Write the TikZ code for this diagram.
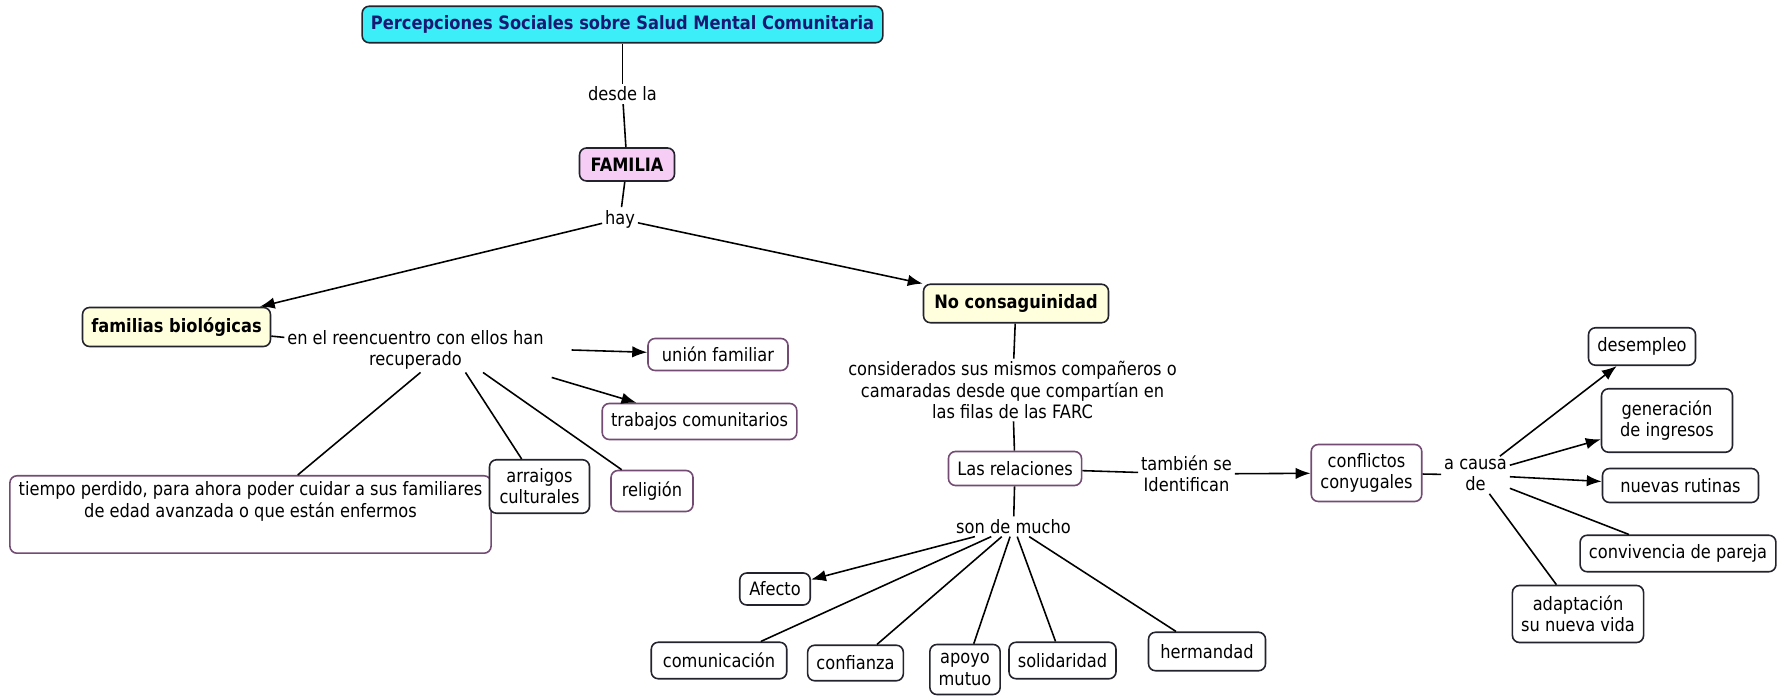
\documentclass[tikz,border=0pt]{standalone}
\usepackage{fontspec}
\setmainfont{DejaVu Sans}[FakeStretch=0.88]
\usetikzlibrary{arrows.meta}

\definecolor{cian}{RGB}{60,238,248}
\definecolor{marino}{RGB}{25,25,115}
\definecolor{rosa}{RGB}{245,205,245}
\definecolor{crema}{RGB}{255,255,222}
\definecolor{lila}{RGB}{115,75,115}
\definecolor{oscuro}{RGB}{35,35,45}

\tikzset{
  concepto/.style={draw=oscuro,line width=0.9pt,rounded corners=4pt,fill=white,align=center,
    inner xsep=5pt,inner ysep=3.5pt,font=\fontsize{10.5}{12}\selectfont},
  conlila/.style={concepto,draw=lila},
  enlace/.style={align=center,inner sep=1.5pt,font=\fontsize{10.5}{12}\selectfont},
  linea/.style={line width=0.9pt},
  flecha/.style={line width=0.9pt,-{Latex[length=8.5pt,width=6.5pt]}}
}

\begin{document}
\begin{tikzpicture}
    \useasboundingbox (0,0) rectangle (35.68,13.94);

    % raiz
    \node[concepto,fill=cian,text=marino,font=\fontsize{10.5}{12}\selectfont\bfseries,minimum width=10.4cm,minimum height=0.73cm] (T) at (12.45,13.45) {Percepciones Sociales sobre Salud Mental Comunitaria};
    \node[enlace] (D) at (12.45,12.06) {desde la};
    \node[concepto,fill=rosa,font=\fontsize{10.5}{12}\selectfont\bfseries,minimum width=1.9cm,minimum height=0.66cm] (F) at (12.54,10.65) {FAMILIA};
    \node[enlace] (H) at (12.40,9.56) {hay};

    \node[concepto,fill=crema,font=\fontsize{10.5}{12}\selectfont\bfseries,minimum width=3.75cm,minimum height=0.78cm] (FB) at (3.53,7.40) {familias biológicas};
    \node[concepto,fill=crema,font=\fontsize{10.5}{12}\selectfont\bfseries,minimum width=3.7cm,minimum height=0.77cm] (NC) at (20.32,7.87) {No consaguinidad};

    % rama izquierda
    \node[enlace] (R) at (8.31,6.94) {en el reencuentro con ellos han\\recuperado};
    \node[conlila,minimum width=2.8cm,minimum height=0.64cm] (UF) at (14.36,6.85) {unión familiar};
    \node[conlila,minimum width=3.87cm,minimum height=0.72cm] (TC) at (13.99,5.51) {trabajos comunitarios};
    \node[conlila,anchor=north,minimum width=9.56cm,text depth=0.6cm] (TP) at (5.01,4.44) {tiempo perdido, para ahora poder cuidar a sus familiares\\de edad avanzada o que están enfermos};
    \node[concepto,minimum width=2cm,minimum height=1.07cm] (AC) at (10.79,4.21) {arraigos\\culturales};
    \node[conlila,minimum width=1.64cm,minimum height=0.82cm] (RE) at (13.04,4.12) {religión};

    % rama derecha
    \node[enlace] (CS) at (20.25,6.14) {considerados sus mismos compañeros o\\camaradas desde que compartían en\\las filas de las FARC};
    \node[conlila,minimum width=2.66cm,minimum height=0.68cm] (LR) at (20.30,4.57) {Las relaciones};
    \node[enlace] (TS) at (23.73,4.46) {también se\\Identifican};
    \node[conlila,minimum width=2.21cm,minimum height=1.14cm] (CC) at (27.33,4.48) {conflictos\\conyugales};
    \node[enlace] (AD) at (29.51,4.44) {a causa\\de};

    \node[concepto,minimum width=2.14cm,minimum height=0.75cm] (DE) at (32.84,7.01) {desempleo};
    \node[concepto,minimum width=2.62cm,minimum height=1.27cm] (GI) at (33.34,5.53) {generación\\de ingresos};
    \node[concepto,minimum width=3.12cm,minimum height=0.68cm] (NR) at (33.61,4.23) {nuevas rutinas};
    \node[concepto,minimum width=3.87cm,minimum height=0.73cm] (CP) at (33.56,2.87) {convivencia de pareja};
    \node[concepto,minimum width=2.3cm,minimum height=1.14cm] (AV) at (31.56,1.66) {adaptación\\su nueva vida};

    \node[enlace] (SM) at (20.27,3.41) {son de mucho};
    \node[concepto,minimum width=1.41cm,minimum height=0.64cm] (AF) at (15.50,2.16) {Afecto};
    \node[concepto,minimum width=2.71cm,minimum height=0.73cm] (CO) at (14.38,0.73) {comunicación};
    \node[concepto,minimum width=1.82cm,minimum height=0.71cm] (CF) at (17.11,0.68) {confianza};
    \node[concepto,minimum width=1.37cm,minimum height=1cm] (AM) at (19.30,0.55) {apoyo\\mutuo};
    \node[concepto,minimum width=1.87cm,minimum height=0.73cm] (SO) at (21.25,0.73) {solidaridad};
    \node[concepto,minimum width=2.34cm,minimum height=0.77cm] (HE) at (24.14,0.91) {hermandad};

    \draw[linea] (T) -- (D);
    \draw[linea] (D) -- (F);
    \draw[linea] (F) -- (H);
    \draw[flecha] (H) -- (FB);
    \draw[flecha] (H) -- (NC);

    \draw[linea] (FB) -- (R);
    \draw[flecha] ([xshift=0.5cm]R.east) -- (UF);
    \draw[flecha] ([xshift=0.1cm,yshift=-0.1cm]R.south east) -- (TC);
    \draw[linea] ([xshift=0.1cm]R.south) -- (TP);
    \draw[linea] ([xshift=1cm]R.south) -- (AC);
    \draw[linea] ([xshift=1.35cm]R.south) -- (RE);

    \draw[linea] (NC) -- (CS);
    \draw[linea] (CS) -- (LR);
    \draw[linea] (LR) -- (TS);
    \draw[flecha] (TS) -- (CC);
    \draw[linea] (CC) -- (AD);
    \draw[flecha] (AD) -- (DE);
    \draw[flecha] (AD) -- (GI);
    \draw[flecha] (AD) -- (NR);
    \draw[linea] (AD) -- (CP);
    \draw[linea] (AD) -- (AV);

    \draw[linea] (LR) -- (SM);
    \draw[flecha] (SM) -- (AF);
    \draw[linea] (SM) -- (CO);
    \draw[linea] (SM) -- (CF);
    \draw[linea] (SM) -- (AM);
    \draw[linea] (SM) -- (SO);
    \draw[linea] (SM) -- (HE);
\end{tikzpicture}
\end{document}
